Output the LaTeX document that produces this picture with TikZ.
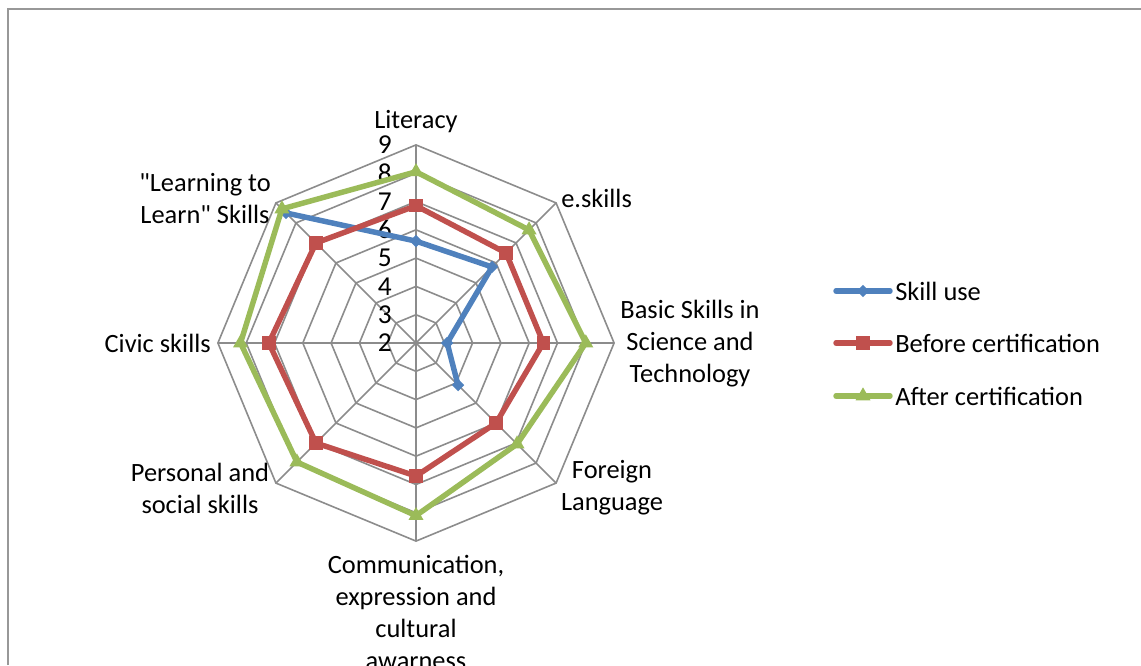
\documentclass[tikz,border=0pt]{standalone}
\usepackage{fontspec}
\setmainfont{Carlito}[Ligatures=TeXOff]
\usepackage{xcolor}
\usepackage{tikz}
\usetikzlibrary{positioning}
\usetikzlibrary{shapes.geometric}
\definecolor{skillblue}{RGB}{79,129,189}
\definecolor{beforered}{RGB}{192,80,77}
\definecolor{aftergreen}{RGB}{155,187,89}
\definecolor{gridgrey}{RGB}{140,140,140}
\definecolor{framegrey}{RGB}{152,152,152}

\begin{document}
\begin{tikzpicture}[x=0.75pt, y=0.75pt,
  gridline/.style={draw=gridgrey, line width=1.2pt},
  axislabel/.style={align=center, font=\fontsize{19.8}{24}\selectfont, inner sep=0pt},
  ticklabel/.style={anchor=east, font=\fontsize{20.5}{24}\selectfont, inner sep=0pt},
  legendtext/.style={anchor=west, font=\fontsize{19.8}{24}\selectfont, inner sep=0pt},
  seriesline/.style={line width=4.1pt, line join=round, line cap=round},
  diamondmark/.style={diamond, fill=skillblue, minimum size=9.5pt, inner sep=0pt},
  squaremark/.style={rectangle, fill=beforered, minimum size=10pt, inner sep=0pt},
  trianglemark/.style={regular polygon, regular polygon sides=3, fill=aftergreen, minimum size=13pt, inner sep=0pt}
]
\useasboundingbox (-416,-322) rectangle (725,343);

% frame of the chart area
\draw[framegrey, line width=1.5pt] (-408,-322) -- (-408,334) -- (725,334);

% grid: rings 3..9 and spokes
\coordinate (centre) at (0,0);
\foreach \v in {3,...,9}
  \draw[gridline] (0:{(\v-2)*28.3}) \foreach \a in {45,90,...,315}{ -- (\a:{(\v-2)*28.3})} -- cycle;
\foreach \a in {0,45,...,315}
  \draw[gridline] (centre) -- (\a:198.1);

% tick labels
\foreach \v in {2,...,9}
  \node[ticklabel] (tick\v) at (-24,{(\v-2)*28.3}) {\v};

% axis labels
\node[axislabel] (literacy) at (0,221) {Literacy};
\node[axislabel, anchor=west] (eskills) at (145,145) {e.skills};
\node[axislabel] (basic) at (274,-1) {Basic Skills in\\Science and\\Technology};
\node[axislabel] (foreign) at (196,-145) {Foreign\\Language};
\node[axislabel] (communication) at (0,-269) {Communication,\\expression and\\cultural\\awarness};
\node[axislabel] (personal) at (-216,-145) {Personal and\\social skills};
\node[axislabel, anchor=east] (civic) at (-205,0) {Civic skills};
\node[axislabel] (learning) at (-211,144) {"Learning to\\Learn" Skills};

% data points
\foreach \a/\v [count=\i] in {90/5.6, 45/5.8, 0/3.1, -45/4.1, 135/8.5}
  \coordinate (skill\i) at (\a:{(\v-2)*28.3});
\foreach \a/\v [count=\i] in {90/6.85, 45/6.5, 0/6.5, -45/6.0, -90/6.7, -135/7.0, 180/7.2, 135/7.0}
  \coordinate (before\i) at (\a:{(\v-2)*28.3});
\foreach \a/\v [count=\i] in {90/8.05, 45/7.65, 0/8.0, -45/7.05, -90/8.1, -135/7.95, 180/8.2, 135/8.7}
  \coordinate (after\i) at (\a:{(\v-2)*28.3});

% series
\draw[seriesline, skillblue] (skill5) -- (skill1) -- (skill2) -- (skill3) -- (skill4);
\foreach \i in {1,...,5}
  \node[diamondmark] (skillmark\i) at (skill\i) {};
\draw[seriesline, beforered] (before1) -- (before2) -- (before3) -- (before4) -- (before5) -- (before6) -- (before7) -- (before8) -- cycle;
\foreach \i in {1,...,8}
  \node[squaremark] (beforemark\i) at (before\i) {};
\draw[seriesline, aftergreen] (after1) -- (after2) -- (after3) -- (after4) -- (after5) -- (after6) -- (after7) -- (after8) -- cycle;
\foreach \i in {1,...,8}
  \node[trianglemark] (aftermark\i) at (after\i) {};

% legend
\coordinate (legA1) at (420,52);  \coordinate (legA2) at (474,52);
\coordinate (legB1) at (420,0);   \coordinate (legB2) at (474,0);
\coordinate (legC1) at (420,-53); \coordinate (legC2) at (474,-53);
\draw[seriesline, skillblue] (legA1) -- (legA2);
\node[diamondmark] (legAmark) at (447,52) {};
\node[legendtext] (legAtext) at (479,52) {Skill use};
\draw[seriesline, beforered] (legB1) -- (legB2);
\node[squaremark] (legBmark) at (447,0) {};
\node[legendtext] (legBtext) at (479,0) {Before certification};
\draw[seriesline, aftergreen] (legC1) -- (legC2);
\node[trianglemark] (legCmark) at (447,-53) {};
\node[legendtext] (legCtext) at (479,-53) {After certification};

\end{tikzpicture}
\end{document}
